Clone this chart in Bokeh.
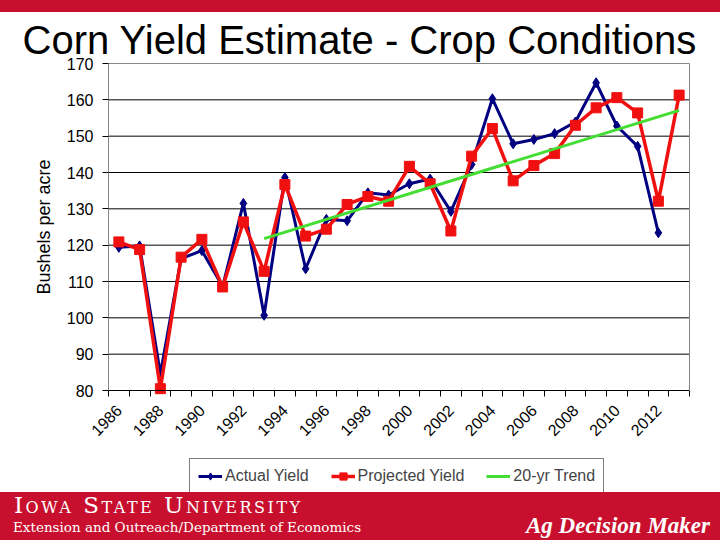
import math
from bokeh.plotting import figure
from bokeh.models import Range1d, FixedTicker, Legend, LegendItem, LinearAxis, Div, Label
from bokeh.layouts import column
from bokeh.embed import file_html
from bokeh.resources import INLINE

# ---------------- data ----------------
years = [1986, 1987, 1988, 1989, 1990, 1991, 1992, 1993, 1994, 1995, 1996, 1997, 1998, 1999,
         2000, 2001, 2002, 2003, 2004, 2005, 2006, 2007, 2008, 2009, 2010, 2011, 2012, 2013]
actual_years = [1986, 1987, 1988, 1989, 1990, 1991, 1992, 1993, 1994, 1995, 1996, 1997, 1998, 1999,
                2000, 2001, 2002, 2003, 2004, 2005, 2006, 2007, 2008, 2009, 2010, 2011, 2012]
actual_yield = [119.4, 119.8, 84.6, 116.3, 118.5, 108.6, 131.5, 100.7, 138.6, 113.5, 127.1, 126.7,
                134.4, 133.8, 136.9, 138.2, 129.3, 142.2, 160.3, 147.9, 149.1, 150.7, 153.9, 164.7,
                152.8, 147.2, 123.4]
projected_yield = [120.9, 118.8, 80.5, 116.7, 121.6, 108.5, 126.4, 112.8, 136.7, 122.5, 124.4, 131.2,
                   133.4, 132.1, 141.7, 136.9, 123.9, 144.5, 152.1, 137.7, 141.9, 145.2, 153.0, 157.8,
                   160.6, 156.4, 132.1, 161.3]
trend_years = [1993, 2013]
trend_yield = [121.8, 157.1]

label_years = [1986, 1988, 1990, 1992, 1994, 1996, 1998, 2000, 2002, 2004, 2006, 2008, 2010, 2012]
y_ticks = [80, 90, 100, 110, 120, 130, 140, 150, 160, 170]
grid_ticks = [90, 100, 110, 120, 130, 140, 150, 160]
y_min, y_max = 80, 170
x_min, x_max = 1985.5, 2013.5

title_text = "Corn Yield Estimate - Crop Conditions"
RED = "#C8102E"
BLUE = "#000080"
PRED = "#F01010"
GREEN = "#44DD33"
EDGE = "#888888"
FONT = "Liberation Sans"

# ---------------- layout geometry (pixels inside the chart canvas) ----------------
CW, CH = 720, 480                 # chart canvas
P_LEFT, P_RIGHT = 108, 689        # plot area left / right
P_TOP, P_BOTTOM = 51, 378         # plot area top / bottom
xs = (P_RIGHT - P_LEFT) / (x_max - x_min)
ys = (P_BOTTOM - P_TOP) / (y_max - y_min)
x_start, x_end = x_min - P_LEFT / xs, x_max + (CW - P_RIGHT) / xs
y_start, y_end = y_min - (CH - P_BOTTOM) / ys, y_max + P_TOP / ys

# ---------------- top bar ----------------
topbar = Div(text="", width=720, height=12, margin=(0, 0, 0, 0),
             styles={"background-color": RED})

# ---------------- chart ----------------
# The frame covers the whole chart canvas; the plot area (1985.5-2013.5, 80-170) sits inside it,
# bounded by axes at fixed locations, so that all labels and the legend are drawn unclipped.
chart = figure(width=CW, height=CH,
               x_range=Range1d(x_start, x_end), y_range=Range1d(y_start, y_end),
               min_border=0, output_backend="svg", toolbar_location=None, outline_line_color=None)

chart.add_layout(Label(x=22, y=CH - 27, x_units="screen", y_units="screen", text=title_text,
                       text_font=FONT, text_font_size="40px", text_color="black",
                       text_baseline="alphabetic", text_align="left"))

chart.xgrid.visible = False
chart.ygrid.visible = False
# horizontal grid lines across the plot area only
chart.segment(x0=[x_min] * len(grid_ticks), x1=[x_max] * len(grid_ticks),
              y0=grid_ticks, y1=grid_ticks, line_color="black", line_width=1)

xa = chart.xaxis[0]
xa.fixed_location = y_min
xa.bounds = (x_min, x_max)
xa.ticker = FixedTicker(ticks=label_years, minor_ticks=[y - 0.5 for y in years] + [years[-1] + 0.5])
xa.major_tick_out = 0
xa.major_tick_in = 0
xa.minor_tick_out = 6
xa.minor_tick_in = 0
xa.minor_tick_line_color = "black"
xa.axis_line_color = "black"
xa.major_label_orientation = math.pi / 4
xa.major_label_text_font = FONT
xa.major_label_text_font_size = "16px"
xa.major_label_text_color = "black"
xa.major_label_standoff = 11

ya = chart.yaxis[0]
ya.fixed_location = x_min
ya.bounds = (y_min, y_max)
ya.ticker = FixedTicker(ticks=y_ticks)
ya.major_tick_out = 6
ya.major_tick_in = 0
ya.minor_tick_out = 0
ya.major_tick_line_color = "black"
ya.axis_line_color = EDGE
ya.major_label_text_font = FONT
ya.major_label_text_font_size = "16px"
ya.major_label_text_color = "black"
ya.major_label_standoff = 9
ya.axis_label = "Bushels per acre"
ya.axis_label_text_font = FONT
ya.axis_label_text_font_size = "18px"
ya.axis_label_text_font_style = "normal"
ya.axis_label_text_color = "black"
ya.axis_label_standoff = 10

# plot-area border (top and right edges) drawn as bare axes
top_edge = LinearAxis(fixed_location=y_max, bounds=(x_min, x_max), ticker=FixedTicker(ticks=[]),
                      axis_line_color=EDGE, major_tick_line_color=None, minor_tick_line_color=None,
                      major_label_text_alpha=0)
right_edge = LinearAxis(fixed_location=x_max, bounds=(y_min, y_max), ticker=FixedTicker(ticks=[]),
                        axis_line_color=EDGE, major_tick_line_color=None,
                        minor_tick_line_color=None, major_label_text_alpha=0)
chart.add_layout(top_edge, "above")
chart.add_layout(right_edge, "right")

l1 = chart.line(actual_years, actual_yield, line_color=BLUE, line_width=3)
s1 = chart.scatter(actual_years, actual_yield, marker="diamond", size=10, fill_color=BLUE, line_color=BLUE)
l2 = chart.line(years, projected_yield, line_color=PRED, line_width=3.5)
s2 = chart.scatter(years, projected_yield, marker="square", size=10, fill_color=PRED, line_color=PRED)
l3 = chart.line(trend_years, trend_yield, line_color=GREEN, line_width=3)

legend = Legend(items=[LegendItem(label="Actual Yield", renderers=[l1, s1]),
                       LegendItem(label="Projected Yield", renderers=[l2, s2]),
                       LegendItem(label="20-yr Trend", renderers=[l3])],
                orientation="horizontal", location=(189, -2))
legend.label_text_font = FONT
legend.label_text_font_size = "16px"
legend.glyph_width = 24
legend.glyph_height = 18
legend.label_height = 18
legend.label_standoff = 3
legend.spacing = 22
legend.padding = 8
legend.margin = 0
legend.border_line_color = "black"
legend.border_line_width = 1
legend.background_fill_alpha = 1
chart.add_layout(legend)

# ---------------- footer ----------------
footer_html = (
    '<div style="position:relative;width:720px;height:48px;overflow:hidden;color:white;">'
    '<div style="position:absolute;left:14px;top:2px;font-family:\'DejaVu Serif\';font-size:23px;'
    'line-height:1;font-variant:small-caps;letter-spacing:2.5px;white-space:nowrap;">Iowa State University</div>'
    '<div style="position:absolute;left:13px;top:29px;font-family:\'DejaVu Serif\';font-size:13.5px;'
    'line-height:1;white-space:nowrap;">Extension and Outreach/Department of Economics</div>'
    '<div style="position:absolute;right:10px;top:22px;font-family:\'Liberation Serif\';font-size:23px;'
    'line-height:1;font-weight:bold;font-style:italic;white-space:nowrap;">Ag Decision Maker</div>'
    '</div>'
)
footer = Div(text=footer_html, width=720, height=48, margin=(0, 0, 0, 0),
             styles={"background-color": RED})

layout = column(topbar, chart, footer, spacing=0)
open("out.html", "w").write(file_html(layout, INLINE))
